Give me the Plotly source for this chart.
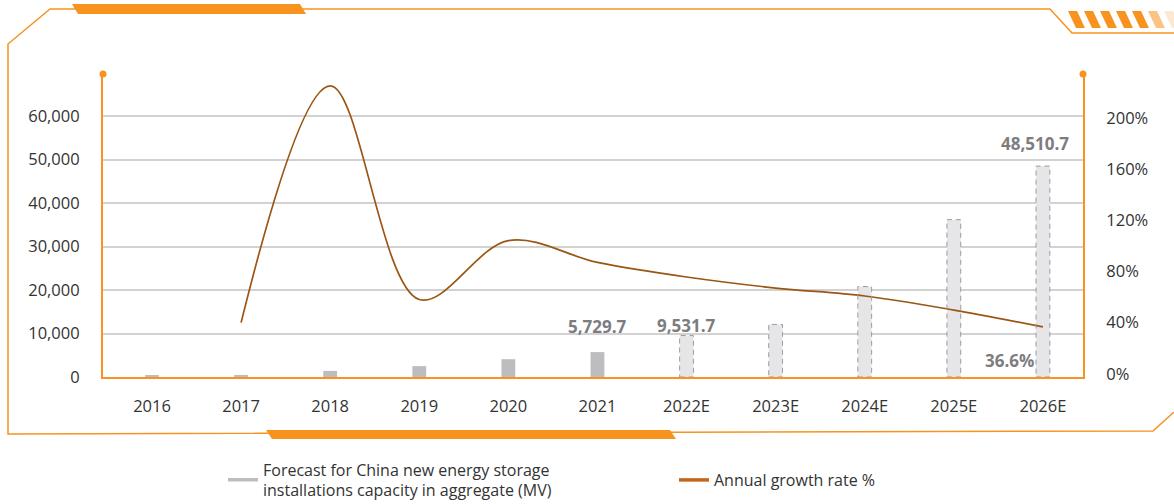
import plotly.graph_objects as go

# ---------------- data ----------------
years = ["2016", "2017", "2018", "2019", "2020", "2021",
         "2022E", "2023E", "2024E", "2025E", "2026E"]
capacity_mw = [450, 480, 1400, 2500, 4100, 5729.7,
               9531.7, 12100, 20800, 36200, 48510.7]
is_estimate = [False, False, False, False, False, False,
               True, True, True, True, True]
growth_years = ["2017", "2018", "2019", "2020", "2021",
                "2022E", "2023E", "2024E", "2025E", "2026E"]
growth_pct = [40, 225, 58, 104, 87, 75.6, 67, 60.8, 49.8, 36.6]

left_ticks = [0, 10000, 20000, 30000, 40000, 50000, 60000]
right_ticks = [0, 40, 80, 120, 160, 200]

bar_label_years = ["2021", "2022E", "2026E"]
legend_bar_name = "Forecast for China new energy storage<br>installations capacity in aggregate (MV)"
legend_line_name = "Annual growth rate %"

# ---------------- style ----------------
ORANGE = "#f7931e"
LINE = "#9a5612"
BAR_ACT = "#bdbdbf"
BAR_EST = "#e6e6e8"
LABEL_GRAY = "#7d7d80"
TEXT = "#333333"
FONT = "Open Sans"

W, H = 1174, 504
L, R, T, B = 103, 1083, 74, 377


def px(x):
    return (x - L) / (R - L)


def py(y):
    return (B - y) / (B - T)


fig = go.Figure()

fig.add_trace(go.Bar(
    x=years, y=capacity_mw,
    marker=dict(color=[BAR_EST if e else BAR_ACT for e in is_estimate], line=dict(width=0)),
    width=0.155, showlegend=False, hoverinfo="x+y",
))

fig.add_trace(go.Scatter(
    x=growth_years, y=growth_pct, yaxis="y2", mode="lines",
    line=dict(color=LINE, width=1.7, shape="spline", smoothing=1.0),
    showlegend=False,
))

# legend entries
fig.add_trace(go.Scatter(x=[None], y=[None], mode="lines", name=legend_bar_name,
                         line=dict(color=BAR_ACT, width=3.5), legend="legend"))
fig.add_trace(go.Scatter(x=[None], y=[None], mode="lines", name=legend_line_name,
                         line=dict(color="#c2661c", width=3.5), legend="legend2"))

shapes = []
# dashed outlines for estimated bars
for i, (yr, v, e) in enumerate(zip(years, capacity_mw, is_estimate)):
    if e:
        shapes.append(dict(type="rect", xref="x", yref="y", x0=i - 0.0775, x1=i + 0.0775,
                           y0=0, y1=v, line=dict(color="#9c9c9e", width=1, dash="5px,4px"),
                           fillcolor="rgba(0,0,0,0)", layer="above"))

# decorative frame
frame = [(1174, 412), (1153, 431), (8, 434), (8, 44), (50, 9), (1050, 9), (1072, 33), (1174, 33)]
path = "M" + " L".join(f"{px(x):.5f},{py(y):.5f}" for x, y in frame)
shapes.append(dict(type="path", xref="paper", yref="paper", path=path,
                   line=dict(color=ORANGE, width=1.5), layer="below"))


def poly(points, color, opacity=1.0):
    p = "M" + " L".join(f"{px(x):.5f},{py(y):.5f}" for x, y in points) + " Z"
    return dict(type="path", xref="paper", yref="paper", path=p, fillcolor=color,
                line=dict(width=0), opacity=opacity, layer="below")


shapes.append(poly([(72, 4), (300, 4), (306, 14), (78, 14)], ORANGE))
shapes.append(poly([(266, 430), (670, 430), (676, 439), (272, 439)], ORANGE))
for k, op in enumerate([1, 1, 1, 1, 1, 0.55, 0.2]):
    x0 = 1068 + 16 * k
    shapes.append(poly([(x0, 11), (x0 + 9, 11), (x0 + 17, 28), (x0 + 8, 28)], ORANGE, op))

# dots on top of axis lines
for xp in (0, 1):
    shapes.append(dict(type="circle", xref="paper", yref="paper", xsizemode="pixel", ysizemode="pixel",
                       xanchor=xp, yanchor=1, x0=-3.5, x1=3.5, y0=-3.5, y1=3.5,
                       fillcolor=ORANGE, line=dict(width=0)))

annotations = []
label_shift = {"2021": (0, 26), "2022E": (0, 10), "2026E": (-8, 23)}
for yr in bar_label_years:
    i = years.index(yr)
    v = capacity_mw[i]
    dx, dy = label_shift[yr]
    annotations.append(dict(x=i, y=v, xref="x", yref="y", text=f"{v:,.1f}", showarrow=False,
                            xshift=dx, yshift=dy, yanchor="middle",
                            font=dict(family=FONT, size=17, color=LABEL_GRAY, weight="bold")))
annotations.append(dict(x=years.index(growth_years[-1]), y=growth_pct[-1], xref="x", yref="y2",
                        text=f"{growth_pct[-1]}%", showarrow=False, xshift=-33, yshift=-34,
                        font=dict(family=FONT, size=17, color=LABEL_GRAY, weight="bold")))

legend_common = dict(orientation="h", yanchor="middle", xanchor="left",
                     font=dict(size=16, color=TEXT), bgcolor="rgba(0,0,0,0)",
                     itemwidth=30, valign="middle")

fig.update_layout(
    width=W, height=H,
    margin=dict(l=L, r=W - R, t=T, b=H - B, autoexpand=False),
    paper_bgcolor="white", plot_bgcolor="white",
    font=dict(family=FONT, color=TEXT, size=16),
    barmode="overlay",
    xaxis=dict(type="category", categoryorder="array", categoryarray=years,
               range=[-0.55, 10.45], showline=True, linecolor=ORANGE, linewidth=2,
               showgrid=False, zeroline=False, ticks="", ticklabelstandoff=13,
               tickfont=dict(size=16.5, color=TEXT)),
    yaxis=dict(range=[0, 69700], tickvals=left_ticks, tickformat=",d",
               showgrid=True, gridcolor="#d2d2d2", gridwidth=1.5,
               showline=True, linecolor=ORANGE, linewidth=2, zeroline=False,
               ticks="", ticklabelstandoff=18, tickfont=dict(size=16.5, color=TEXT)),
    yaxis2=dict(overlaying="y", side="right", range=[-2.5, 234.2], tickvals=right_ticks,
                ticktext=[f"{v}%" for v in right_ticks], showgrid=False, showline=True,
                linecolor=ORANGE, linewidth=2,
                zeroline=False, ticks="", ticklabelstandoff=18,
                tickfont=dict(size=16.5, color=TEXT)),
    legend=dict(x=px(223), y=py(480), **legend_common),
    legend2=dict(x=px(674), y=py(480), **legend_common),
    shapes=shapes,
    annotations=annotations,
)

fig.write_html("out.html")
